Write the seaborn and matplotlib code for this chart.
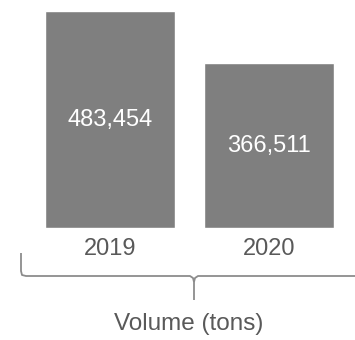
import matplotlib
matplotlib.use("Agg")
import matplotlib.pyplot as plt
import seaborn as sns
import pandas as pd
from matplotlib.lines import Line2D

years = ["2019", "2020"]
volumes = [483454, 366511]
axis_title = "Volume (tons)"

df = pd.DataFrame({"year": years, "volume": volumes})

sns.set_style("white")
plt.rcParams["font.family"] = ["Liberation Sans", "DejaVu Sans"]

W, H = 355, 340
fig = plt.figure(figsize=(W / 100, H / 100), dpi=100)
# axes: bottom at bar baseline, top at tallest bar
ax = fig.add_axes([0, (H - 228) / H, 1, (228 - 11) / H])
sns.barplot(data=df, x="year", y="volume", color="#7f7f7f", saturation=1,
            width=0.82, ax=ax)
ax.set_xlim(-110 / 159, (W - 110) / 159)
ax.set_ylim(0, max(volumes))
for c in ax.containers:
    ax.bar_label(c, labels=[f"{v:,}" for v in volumes], label_type="center",
                 color="white", fontsize=17)
sns.despine(ax=ax, left=True, bottom=True, top=True, right=True)
ax.set_yticks([])
ax.set_xlabel("")
ax.set_ylabel("")
ax.tick_params(axis="x", length=0, pad=7, labelsize=17, labelcolor="#595959")

# brace under the categories (figure pixel coords, y from top)
def fx(px):
    return px / W

def fy(py):
    return (H - py) / H

brace_col = "#8c8c8c"
left = [(21, 253), (21, 271), (22, 275), (26, 276), (190, 276), (193, 278), (194, 282), (194, 300)]
right = [(194, 282), (195, 278), (198, 276), (W + 2, 276)]
for pts in (left, right):
    fig.add_artist(Line2D([fx(p[0]) for p in pts], [fy(p[1]) for p in pts],
                          color=brace_col, lw=1.3, solid_capstyle="butt",
                          solid_joinstyle="round"))

fig.text(fx(189), fy(324), axis_title, ha="center", va="center",
         fontsize=17.5, color="#595959")

fig.savefig("out.png", dpi=100)
